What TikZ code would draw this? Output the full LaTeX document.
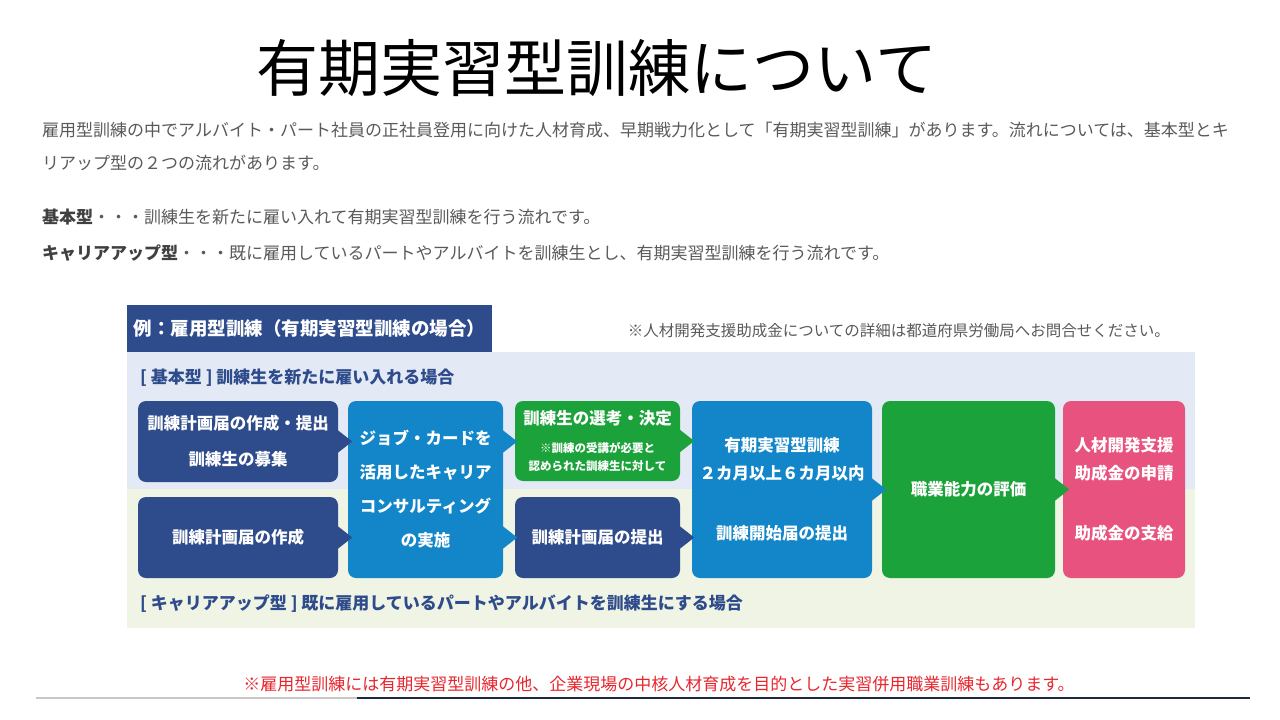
\documentclass[tikz,border=0pt]{standalone}
\usepackage{fontspec}
\setmainfont{Noto Sans CJK JP}
\definecolor{navy}{HTML}{2E4B8B}
\definecolor{skyblue}{HTML}{1286C8}
\definecolor{grassgreen}{HTML}{1CA23B}
\definecolor{rosepink}{HTML}{E8527F}
\definecolor{bandblue}{HTML}{E4EAF5}
\definecolor{bandgreen}{HTML}{EFF4E4}
\definecolor{textgray}{HTML}{5A5A5A}
\definecolor{notered}{HTML}{E8262E}
\definecolor{rulegray}{HTML}{C8C8C8}
\definecolor{ruledark}{HTML}{1F2A3A}
\tikzset{
	box/.style={rounded corners=8pt,fill=navy,text=white,inner sep=0pt,align=center,font=\bfseries\fontsize{16.5}{36}\selectfont},
	sbox/.style={box,fill=skyblue},
	gbox/.style={box,fill=grassgreen},
	pbox/.style={box,fill=rosepink},
	para/.style={anchor=west,inner sep=0pt,text=textgray,font=\fontsize{17}{20}\selectfont},
	tag/.style={anchor=west,inner sep=0pt,text=navy,font=\bfseries\fontsize{17}{20}\selectfont}
}
\begin{document}
\begin{tikzpicture}[x=1pt,y=-1pt]
	\useasboundingbox (0,0) rectangle (1280,720);
	\fill[white] (0,0) rectangle (1280,720);

	\node (title) at (597,68) {\fontsize{62}{70}\selectfont 有期実習型訓練について};
	\node[para] (p1) at (42,130) {雇用型訓練の中でアルバイト・パート社員の正社員登用に向けた人材育成、早期戦力化として「有期実習型訓練」があります。流れについては、基本型とキ};
	\node[para] (p2) at (42,163) {リアップ型の２つの流れがあります。};
	\node[para] (p3) at (42,217) {\textcolor{black!75}{\bfseries 基本型}・・・訓練生を新たに雇い入れて有期実習型訓練を行う流れです。};
	\node[para] (p4) at (42,253) {\textcolor{black!75}{\bfseries キャリアアップ型}・・・既に雇用しているパートやアルバイトを訓練生とし、有期実習型訓練を行う流れです。};

	% bands
	\fill[bandblue] (127,352) rectangle (1195,489);
	\fill[bandgreen] (127,489) rectangle (1195,628);
	\node[fill=navy,text=white,anchor=north west,inner sep=0pt,minimum width=365,minimum height=47,font=\bfseries\fontsize{18.5}{20}\selectfont] (head) at (127,305) {例：雇用型訓練（有期実習型訓練の場合）};
	\node[anchor=east,inner sep=0pt,text=textgray,font=\fontsize{15.5}{18}\selectfont] (note) at (1170,331) {※人材開発支援助成金についての詳細は都道府県労働局へお問合せください。};
	\node[tag] (kihon) at (140,378) {[ 基本型 ] 訓練生を新たに雇い入れる場合};
	\node[tag] (career) at (140,604) {[ キャリアアップ型 ] 既に雇用しているパートやアルバイトを訓練生にする場合};

	% steps
	\node[box,minimum width=200,minimum height=81] (a1) at (238,441.5) {訓練計画届の作成・提出\\訓練生の募集};
	\node[box,minimum width=200,minimum height=81] (a2) at (238,537.5) {訓練計画届の作成};
	\node[sbox,minimum width=155,minimum height=177,font=\bfseries\fontsize{16.5}{34}\selectfont] (b) at (425.5,489.5) {ジョブ・カードを\\活用したキャリア\\コンサルティング\\の実施};
	\node[gbox,minimum width=165,minimum height=80,font=\bfseries\fontsize{11.5}{18}\selectfont] (c1) at (597.5,441) {{\fontsize{16.5}{18}\selectfont 訓練生の選考・決定}\\[10pt]※訓練の受講が必要と\\認められた訓練生に対して};
	\node[box,minimum width=165,minimum height=81] (c2) at (597.5,537.5) {訓練計画届の提出};
	\node[sbox,minimum width=180,minimum height=177,font=\bfseries\fontsize{16.5}{28}\selectfont] (d) at (782,489.5) {有期実習型訓練\\２カ月以上６カ月以内\\[32pt]訓練開始届の提出};
	\node[gbox,minimum width=173,minimum height=177] (e) at (968.5,489.5) {職業能力の評価};
	\node[pbox,minimum width=122,minimum height=177,font=\bfseries\fontsize{16.5}{28}\selectfont] (f) at (1124,489.5) {人材開発支援\\助成金の申請\\[32pt]助成金の支給};

	% notches
	\fill[navy] (a1.east) ++(0,-11) -- ++(14,11) -- ++(-14,11) -- cycle;
	\fill[navy] (a2.east) ++(0,-11) -- ++(14,11) -- ++(-14,11) -- cycle;
	\fill[skyblue] (b.east |- a1.east) ++(0,-11) -- ++(14,11) -- ++(-14,11) -- cycle;
	\fill[skyblue] (b.east |- a2.east) ++(0,-11) -- ++(14,11) -- ++(-14,11) -- cycle;
	\fill[grassgreen] (c1.east) ++(0,-11) -- ++(14,11) -- ++(-14,11) -- cycle;
	\fill[navy] (c2.east) ++(0,-11) -- ++(14,11) -- ++(-14,11) -- cycle;
	\fill[skyblue] (d.east) ++(0,-11) -- ++(14,11) -- ++(-14,11) -- cycle;
	\fill[grassgreen] (e.east) ++(0,-11) -- ++(14,11) -- ++(-14,11) -- cycle;

	\node[text=notered,font=\fontsize{17}{20}\selectfont] (foot) at (659,684) {※雇用型訓練には有期実習型訓練の他、企業現場の中核人材育成を目的とした実習併用職業訓練もあります。};
	\draw[rulegray,line width=2pt] (36,698) -- (357,698);
	\draw[ruledark,line width=2pt] (357,698) -- (1250,698);
\end{tikzpicture}
\end{document}
